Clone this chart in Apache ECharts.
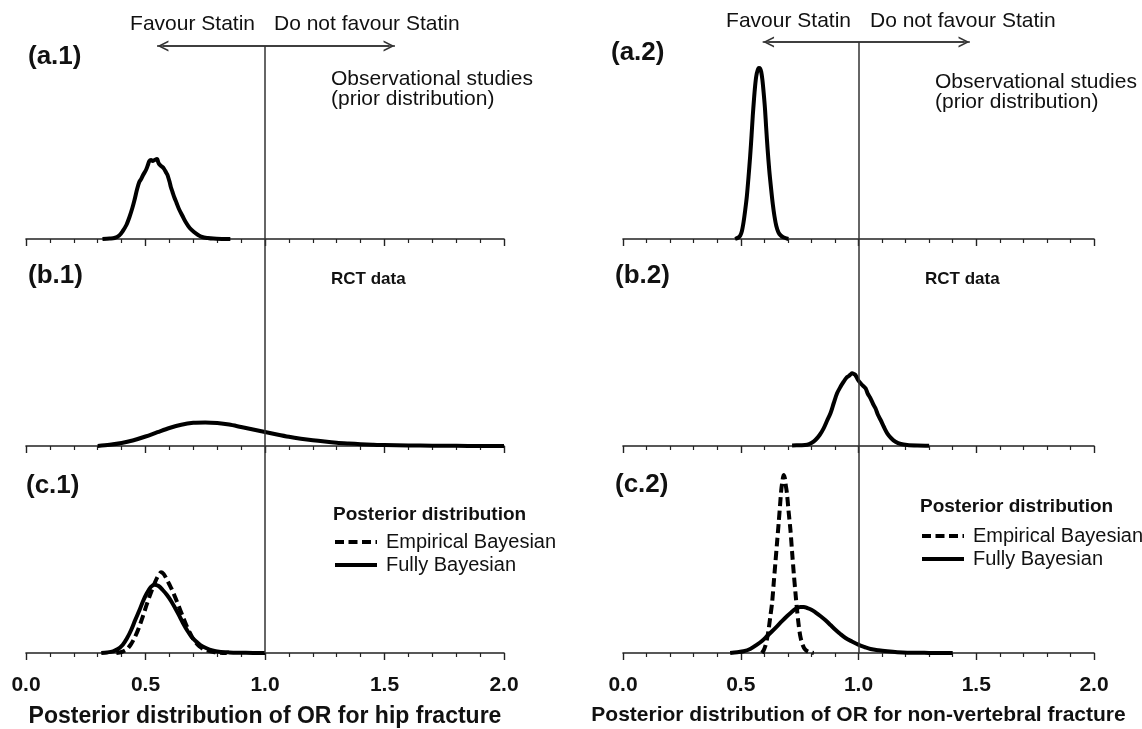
<!DOCTYPE html>
<html><head><meta charset="utf-8">
<script src="https://cdn.jsdelivr.net/npm/echarts@6/dist/echarts.min.js"></script>
<style>html,body{margin:0;padding:0;background:#fff}#c{width:1142px;height:729px}</style>
</head><body><div id="c"></div>
<script>
// ---- data (OR, relative density) ----
const xTickLabels = ['0.0','0.5','1.0','1.5','2.0'];
const xTitles = ['Posterior distribution of OR for hip fracture','Posterior distribution of OR for non-vertebral fracture'];
const panelLabels = ['(a.1)','(a.2)','(b.1)','(b.2)','(c.1)','(c.2)'];
const arrowLeftCol = [0.548, 1.544];
const arrowRightCol = [0.593, 1.473];

const a1Prior = [[0.32,0],[0.35,0.5],[0.37,1],[0.39,3.5],[0.405,8],[0.42,14],[0.433,22],[0.445,31],[0.454,39],[0.465,50],[0.474,57],[0.482,60],[0.49,64],[0.502,69],[0.51,74],[0.516,78],[0.523,79],[0.53,78],[0.538,79],[0.548,80],[0.553,77],[0.557,75],[0.565,73],[0.571,72],[0.578,70],[0.585,67],[0.592,64],[0.596,61],[0.601,57],[0.606,52],[0.613,47],[0.62,42],[0.63,36],[0.64,30],[0.655,23],[0.668,17],[0.685,11],[0.703,7],[0.72,4],[0.737,2],[0.76,1],[0.784,0.4],[0.82,0.1],[0.855,0]];
const a2Prior = [[0.476,0],[0.49,1.5],[0.498,3.5],[0.505,8],[0.512,17],[0.519,29],[0.526,43],[0.533,62],[0.54,83],[0.546,104],[0.551,123],[0.556,139],[0.561,153],[0.566,163],[0.572,169],[0.577,171],[0.582,170.5],[0.587,167],[0.592,159],[0.597,147],[0.603,130],[0.608,111],[0.614,90],[0.621,69],[0.629,50],[0.636,35],[0.643,23],[0.651,13],[0.66,6.7],[0.67,3.5],[0.681,1.7],[0.702,0]];
const b1Rct = [[0.30,0],[0.35,1.2],[0.40,3],[0.45,5.8],[0.50,9.5],[0.55,13.8],[0.60,18],[0.65,21.3],[0.70,23.2],[0.75,23.6],[0.80,23],[0.85,21.5],[0.90,19],[0.95,16.5],[1.00,14],[1.05,11.5],[1.10,9.2],[1.15,7.3],[1.20,5.7],[1.25,4.4],[1.30,3.3],[1.35,2.5],[1.40,1.8],[1.45,1.3],[1.50,0.9],[1.60,0.5],[1.70,0.3],[1.80,0.15],[1.90,0.1],[2.00,0.05]];
const b2Rct = [[0.718,0.5],[0.75,0.8],[0.782,1.2],[0.80,3],[0.817,6],[0.835,11],[0.852,17.7],[0.866,25],[0.881,32.7],[0.895,43],[0.909,52.7],[0.923,59],[0.937,64.3],[0.948,68],[0.959,70],[0.966,71.5],[0.973,72.7],[0.98,72],[0.987,71],[0.998,66],[1.009,62.7],[1.02,60],[1.03,57.7],[1.04,52],[1.051,47.7],[1.062,42],[1.072,37.7],[1.083,31],[1.094,26],[1.108,19],[1.122,12.7],[1.14,7.5],[1.157,4.3],[1.18,2],[1.207,1],[1.25,0.5],[1.30,0.3]];
const c1Empirical = [[0.378,0],[0.40,1],[0.42,3.3],[0.437,8],[0.454,15],[0.472,25],[0.489,36.7],[0.503,47],[0.517,56.7],[0.531,65.5],[0.544,73],[0.555,78],[0.565,80.7],[0.576,79],[0.586,75],[0.60,68.5],[0.614,61.7],[0.628,53.5],[0.642,45],[0.656,36.5],[0.67,28.3],[0.684,21],[0.697,15],[0.711,10.3],[0.725,6.7],[0.742,4],[0.76,2.3],[0.785,0.9],[0.808,0.3],[0.84,0]];
const c1Fully = [[0.315,0],[0.34,0.6],[0.364,1.7],[0.385,4],[0.405,8.3],[0.422,14.5],[0.44,23],[0.457,33],[0.475,43],[0.49,52],[0.506,60],[0.522,66],[0.5375,68.3],[0.555,67],[0.572,63],[0.59,58],[0.607,52],[0.625,44.5],[0.642,37],[0.659,29],[0.676,22],[0.693,16],[0.711,11.7],[0.73,7.8],[0.753,5],[0.78,2.6],[0.808,1.3],[0.85,0.6],[0.89,0.3],[0.95,0.1],[1.0,0]];
const c2Empirical = [[0.59,0],[0.597,2.5],[0.604,6.7],[0.611,13.5],[0.618,23],[0.625,35.5],[0.633,50],[0.64,70],[0.647,90],[0.654,110],[0.661,130],[0.667,148],[0.672,163],[0.677,172],[0.682,178],[0.687,175],[0.691,168],[0.696,160],[0.703,142],[0.711,123],[0.718,101],[0.725,80],[0.732,61],[0.739,43],[0.746,28],[0.753,16.7],[0.763,8],[0.774,3.3],[0.79,1],[0.81,0]];
const c2Fully = [[0.455,0],[0.485,0.8],[0.512,1.7],[0.54,4],[0.569,8.3],[0.59,12],[0.611,16.7],[0.632,21.5],[0.654,26.7],[0.675,31.8],[0.696,36.7],[0.714,40.5],[0.732,44],[0.753,46],[0.768,46],[0.782,45],[0.80,43.3],[0.817,40.7],[0.838,37],[0.86,32.7],[0.881,28],[0.902,23.3],[0.923,19],[0.945,15],[0.972,11.5],[0.999,8.3],[1.025,6],[1.051,4],[1.085,2.7],[1.122,1.7],[1.165,0.8],[1.207,0.3],[1.30,0.1],[1.40,0]];

// ---- layout ----
const FONT = "'Liberation Sans', Arial, Helvetica, sans-serif";
const gridDefs = [
  {left:26, width:478, top:46, height:193},
  {left:623, width:471, top:42, height:197},
  {left:26, width:478, top:239, height:207},
  {left:623, width:471, top:239, height:207},
  {left:26, width:478, top:446, height:207},
  {left:623, width:471, top:446, height:207}
];
const CHEV = 'path://M5,0 L10,10 L8.4,10 L5,3.2 L1.6,10 L0,10 Z';
const INK = '#111';

const grid = gridDefs.map(g => Object.assign({containLabel:false}, g));
const xAxis = gridDefs.map((g, i) => ({
  gridIndex: i, type: 'value', min: 0, max: 2, interval: 0.5,
  axisLine: {show: true, onZero: false, lineStyle: {color: '#222', width: 1.6}},
  axisTick: {show: true, length: 7, inside: false, lineStyle: {color: '#222', width: 1.4}},
  minorTick: {show: true, splitNumber: 5, length: 4, lineStyle: {color: '#222', width: 1.2}},
  splitLine: {show: false}, minorSplitLine: {show: false},
  axisLabel: {show: i >= 4, margin: 22, fontFamily: FONT, fontSize: 21, fontWeight: 'bold', color: INK,
    formatter: v => xTickLabels[Math.round(v / 0.5)]},
  name: i >= 4 ? xTitles[i - 4] : '',
  nameLocation: 'middle', nameGap: 52,
  nameTextStyle: {fontFamily: FONT, fontSize: i === 4 ? 23 : 21, fontWeight: 'bold', color: INK}
}));
const yAxis = gridDefs.map((g, i) => ({gridIndex: i, type: 'value', min: 0, max: g.height, show: false}));

function marks(i, arrow) {
  const data = [{xAxis: 1}];
  if (arrow) {
    const ym = gridDefs[i].height;
    const inset = 0.025;
    data.push([{coord: [arrow[0], ym], symbol: 'none'}, {coord: [arrow[1], ym], symbol: 'none'}]);
    data.push([{coord: [arrow[0] + inset, ym], symbol: CHEV, symbolSize: [11, 11]},
               {coord: [arrow[1] - inset, ym], symbol: CHEV, symbolSize: [11, 11]}]);
  }
  return {silent: true, symbol: 'none', label: {show: false}, animation: false,
    lineStyle: {color: '#333', width: 1.5, type: 'solid'}, emphasis: {disabled: true}, data};
}
function curve(name, i, data, dashed, withMarks, arrow) {
  const s = {name, type: 'line', xAxisIndex: i, yAxisIndex: i, data, symbol: 'none', showSymbol: false,
    smooth: 0.3, clip: false, animation: false, z: 3,
    lineStyle: {color: '#000', width: 4, type: dashed ? [9, 4.5] : 'solid', cap: 'butt', join: 'round'},
    itemStyle: {color: '#000'}};
  if (withMarks) s.markLine = marks(i, arrow);
  return s;
}
const series = [
  curve('Observational studies (a.1)', 0, a1Prior, false, true, arrowLeftCol),
  curve('Observational studies (a.2)', 1, a2Prior, false, true, arrowRightCol),
  curve('RCT data (b.1)', 2, b1Rct, false, true),
  curve('RCT data (b.2)', 3, b2Rct, false, true),
  curve('Empirical Bayesian', 4, c1Empirical, true, true),
  curve('Fully Bayesian', 4, c1Fully, false, false),
  curve('Empirical Bayesian', 5, c2Empirical, true, true),
  curve('Fully Bayesian', 5, c2Fully, false, false)
];

function txt(text, x, y, size, bold, align) {
  return {type: 'text', x, y, silent: true, z: 10,
    style: {text, fontFamily: FONT, fontSize: size, fontWeight: bold ? 'bold' : 'normal', fill: INK,
      align: align || 'left', verticalAlign: 'middle'}};
}
const graphic = [
  txt('Favour Statin', 255, 24, 21, false, 'right'),
  txt('Do not favour Statin', 274, 24, 21, false),
  txt(panelLabels[0], 28, 57, 26, true),
  txt('Observational studies', 331, 79, 21, false),
  txt('(prior distribution)', 331, 99, 21, false),
  txt('Favour Statin', 851, 21, 21, false, 'right'),
  txt('Do not favour Statin', 870, 21, 21, false),
  txt(panelLabels[1], 611, 53, 26, true),
  txt('Observational studies', 935, 82, 21, false),
  txt('(prior distribution)', 935, 102, 21, false),
  txt(panelLabels[2], 28, 276, 26, true),
  txt('RCT data', 331, 279, 17, true),
  txt(panelLabels[3], 615, 276, 26, true),
  txt('RCT data', 925, 279, 17, true),
  txt(panelLabels[4], 26, 486, 26, true),
  txt('Posterior distribution', 333, 515, 19, true),
  txt(panelLabels[5], 615, 485, 26, true),
  txt('Posterior distribution', 920, 507, 19, true)
];
const legendBase = {orient: 'vertical', data: ['Empirical Bayesian', 'Fully Bayesian'], itemWidth: 42, itemHeight: 20,
  itemGap: 3, padding: 0, selectedMode: false,
  itemStyle: {color: 'rgba(0,0,0,0)', borderWidth: 0, opacity: 0},
  lineStyle: {width: 4, color: '#000', inactiveWidth: 4},
  textStyle: {fontFamily: FONT, fontSize: 20, color: INK, padding: [0, 0, 0, 4]}};
const legend = [
  Object.assign({}, legendBase, {left: 333, top: 532}),
  Object.assign({}, legendBase, {left: 920, top: 526})
];

const chart = echarts.init(document.getElementById('c'), null, {renderer: 'canvas'});
chart.setOption({backgroundColor: '#fff', animation: false, grid, xAxis, yAxis, series, graphic, legend, tooltip: {show: false}});
</script></body></html>
